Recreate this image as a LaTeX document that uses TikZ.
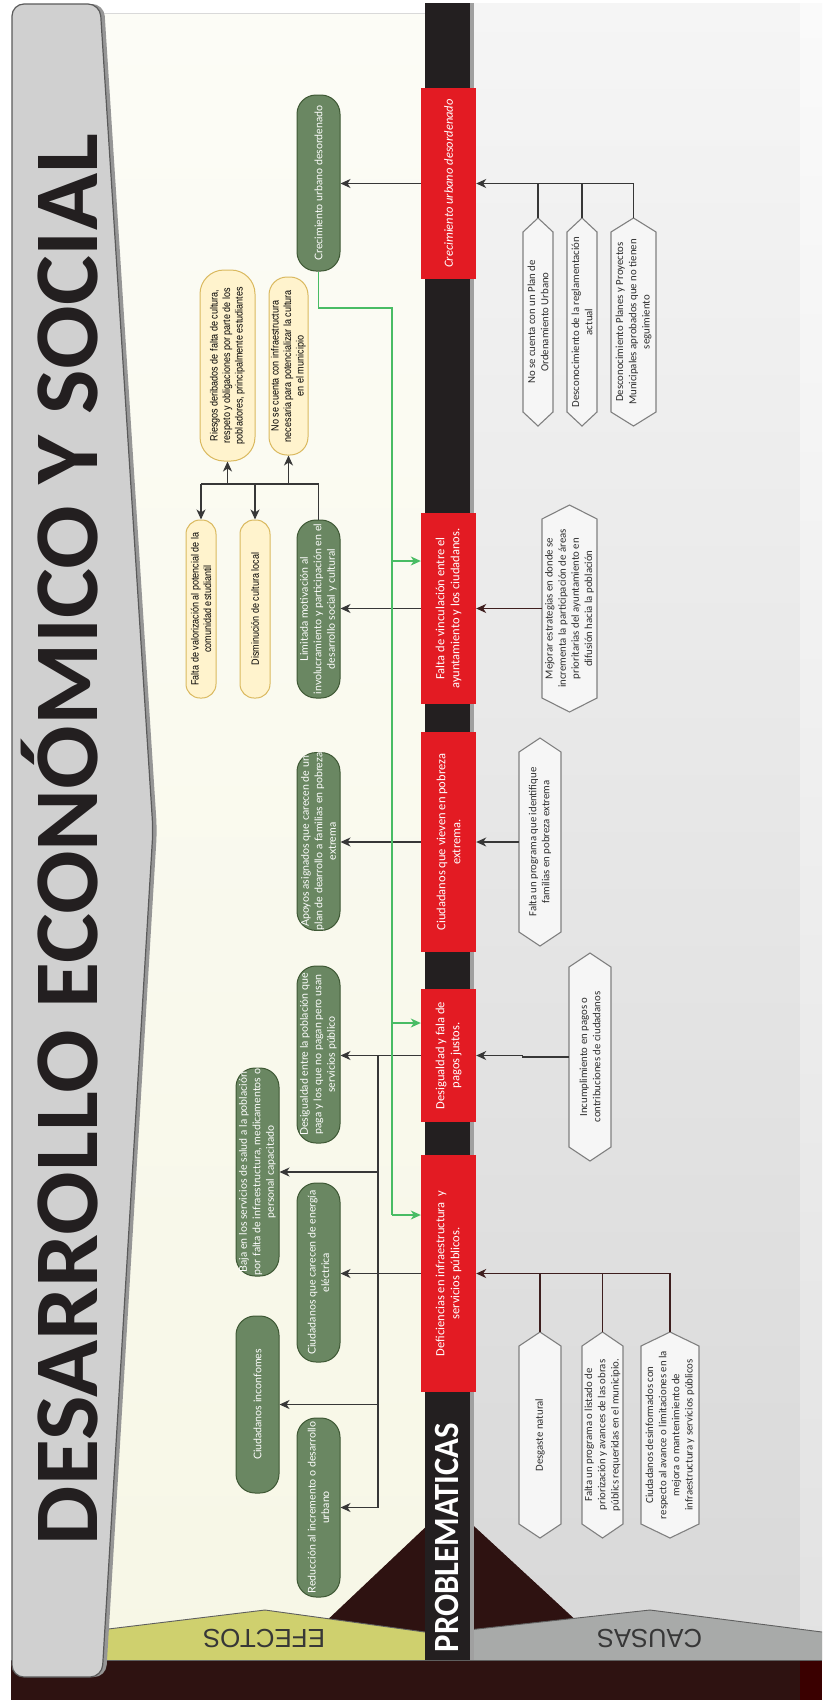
\documentclass[tikz,border=0pt]{standalone}
\usepackage{fontspec}
\usepackage{graphicx}
\usetikzlibrary{arrows.meta,calc}
\setmainfont{Liberation Sans}
\newfontfamily\carlito{Carlito}
\newfontfamily\latof{Lato}
\newfontfamily\narrowf[FakeStretch=0.86]{Liberation Sans}
\newfontfamily\arialf{Liberation Sans}
\newfontfamily\titlef{Carlito}

\definecolor{redbox}{RGB}{227,27,35}
\definecolor{barblack}{RGB}{35,31,32}
\definecolor{gfill}{RGB}{106,135,98}
\definecolor{gborder}{RGB}{62,88,52}
\definecolor{yfill}{RGB}{255,243,205}
\definecolor{yborder}{RGB}{218,185,95}
\definecolor{hexfill}{RGB}{246,246,246}
\definecolor{hexborder}{RGB}{128,128,128}
\definecolor{hextxt}{RGB}{45,45,45}
\definecolor{darkbrown}{RGB}{46,18,17}
\definecolor{darkred}{RGB}{58,0,0}
\definecolor{efband}{RGB}{207,208,110}
\definecolor{caband}{RGB}{168,170,169}
\definecolor{bandline}{RGB}{95,95,95}
\definecolor{bandtxt}{RGB}{55,55,55}
\definecolor{titlegray}{RGB}{208,208,208}
\definecolor{titleline}{RGB}{90,90,90}
\definecolor{titleshadow}{RGB}{150,150,150}
\definecolor{greenline}{RGB}{72,188,100}
\definecolor{linegray}{RGB}{55,55,55}
\definecolor{linebrown}{RGB}{62,30,30}
\definecolor{creamtop}{RGB}{252,252,246}
\definecolor{creambot}{RGB}{247,247,230}
\definecolor{graytop}{RGB}{245,245,245}
\definecolor{graybot}{RGB}{216,216,216}
\definecolor{striptop}{RGB}{250,250,250}
\definecolor{stripbot}{RGB}{226,226,226}
\definecolor{barshadow}{RGB}{160,160,160}

\newcommand\fitbox[3]{\resizebox{#1}{#2}{\raisebox{0pt}[\fontcharht\font`H][0pt]{#3}}}

\newcommand\hexn[6]{%
  \draw[hexdraw] (#2-#4,#3-#5+14) -- (#2,#3-#5) -- (#2+#4,#3-#5+14) -- (#2+#4,#3+#5-14) -- (#2,#3+#5) -- (#2-#4,#3+#5-14) -- cycle;
  \node[hextext, minimum width={2*#5}, minimum height={2*#4}] (#1) at (#2,#3) {#6};
}

\begin{document}
\begin{tikzpicture}[x=1pt,y=-1pt,
  redstyle/.style={rotate=90, fill=redbox, inner sep=0pt, minimum height=55, text=white, align=center, font=\carlito\fontsize{12.5}{15}\selectfont},
  gnode/.style={rotate=90, draw=gborder, fill=gfill, line width=1pt, rounded corners=19pt, minimum height=43, inner sep=0pt, text=white, align=center, font=\latof\fontsize{10.6}{13.5}\selectfont},
  ynode/.style={rotate=90, draw=yborder, fill=yfill, line width=1pt, inner sep=0pt, text=black, align=center, font=\narrowf\fontsize{10.5}{12.5}\selectfont},
  hextext/.style={rotate=90, inner sep=0pt, text=hextxt, align=center, font=\carlito\fontsize{10.8}{13.2}\selectfont},
  hexdraw/.style={draw=hexborder, fill=hexfill, line width=1.1pt},
  conn/.style={draw=linegray, line width=1.2pt},
  arr/.style={conn, -{Stealth[length=10pt,width=9pt,inset=3pt]}},
  bconn/.style={draw=linebrown, line width=1.2pt},
  barr/.style={bconn, -{Stealth[length=10pt,width=9pt,inset=3pt]}},
  gconn/.style={draw=greenline, line width=1.2pt},
  garr/.style={gconn, -{Stealth[length=10pt,width=9pt,inset=3pt]}}
]
\useasboundingbox (0,0) rectangle (822,1700);
\fill[white] (0,0) rectangle (822,1700);

% backgrounds
\shade[top color=creamtop, bottom color=creambot] (100,13) rectangle (425,1660);
\draw[black!15, line width=0.8pt] (100,13) -- (425,13);
\shade[top color=graytop, bottom color=graybot] (470,3) rectangle (800,1660);
\shade[top color=striptop, bottom color=stripbot] (800,3) rectangle (822,1660);
\fill[darkbrown] (11,1660) rectangle (822,1700);
\fill[darkred] (800,1660) rectangle (822,1700);
\fill[darkbrown] (285,1660) -- (450,1504) -- (619,1660) -- cycle;
\fill[efband] (100,1630) -- (265,1610) -- (432,1633) -- (432,1660) -- (100,1660) -- cycle;
\draw[bandline, line width=0.9pt] (100,1630) -- (265,1610) -- (432,1633);
\fill[caband] (468,1630) -- (650,1610) -- (822,1632) -- (822,1660) -- (468,1660) -- cycle;
\draw[bandline, line width=0.9pt] (468,1630) -- (650,1610) -- (822,1632);
\draw[bandline, line width=0.9pt] (11,1660) -- (822,1660);

% title band
\fill[titleshadow, rounded corners=12pt] (15,4) -- (104,4) -- (157,830) -- (106,1677) -- (15,1677) -- cycle;
\draw[titleline, fill=titlegray, line width=1.2pt, rounded corners=12pt] (12,4) -- (100,4) -- (153,830) -- (102,1677) -- (12,1677) -- cycle;
\node[rotate=90, inner sep=0pt, text=barblack, font=\titlef\bfseries] (title) at (67.5,839.5) {\fitbox{1411pt}{59pt}{DESARROLLO ECONÓMICO Y SOCIAL}};

% band texts
\node[rotate=180, inner sep=0pt, text=bandtxt, font=\arialf] (efectos) at (264,1638) {\fitbox{122pt}{18pt}{EFECTOS}};
\node[rotate=180, inner sep=0pt, text=bandtxt, font=\arialf] (causas) at (649.5,1638) {\fitbox{105pt}{18pt}{CAUSAS}};

% central bar
\fill[barshadow] (470,3) rectangle (474,1660);
\fill[barblack] (425,3) rectangle (470,1660);
\node[rotate=90, inner sep=0pt, text=white, font=\titlef\bfseries] (prob) at (446.5,1537.5) {\fitbox{229pt}{23pt}{PROBLEMATICAS}};

% problem boxes
\node[redstyle, minimum width=191] (r1) at (448.5,183.5) {\itshape Crecimiento urbano desordenado};
\node[redstyle, minimum width=191] (r2) at (448.5,608.5) {Falta de vinculación entre el\\ayuntamiento y los ciudadanos.};
\node[redstyle, minimum width=220] (r3) at (448.5,842) {Ciudadanos que vieven en pobreza\\extrema.};
\node[redstyle, minimum width=133] (r4) at (448.5,1055.5) {Desigualdad y fala de\\pagos justos.};
\node[redstyle, minimum width=237] (r5) at (448.5,1273.5) {Deficiencias en infraestructura~ y\\servicios públicos.};

% effects (green)
\node[gnode, minimum width=176] (g1) at (318.5,183) {Crecimiento urbano desordenado};
\node[gnode, minimum width=178] (g2) at (318.5,609) {Limitada motivación al\\involucramiento y participación en el\\desarrollo social y cultural};
\node[gnode, minimum width=177] (g3) at (318.5,841.5) {Apoyos asignados que carecen de un\\plan de dearrollo a familias en pobreza\\extrema};
\node[gnode, minimum width=177] (g4) at (318.5,1054.5) {Desigualdad entre la población que\\paga y los que no pagan pero usan\\servicios público};
\node[gnode, minimum width=208] (g5) at (257.5,1172) {Baja en los servicios de salud a la población\\por falta de infraestructura, medicamentos o\\personal capacitado};
\node[gnode, minimum width=179] (g6) at (318.5,1272.5) {Ciudadanos que carecen de energía\\eléctrica};
\node[gnode, minimum width=177] (g7) at (257.5,1404.5) {Ciudadanos inconfomes};
\node[gnode, minimum width=179] (g8) at (318.5,1507.5) {Reducción al incremento o desarrollo\\urbano};

% effects (yellow)
\node[ynode, minimum width=191, minimum height=55, rounded corners=24pt] (y1) at (227.5,365.5) {Riesgos deribados de falta de cultura,\\respeto y obligaciones por parte de los\\pobladores, principalmente estudiantes};
\node[ynode, minimum width=178, minimum height=39, rounded corners=18pt] (y2) at (288.5,366) {No se cuenta con infraestructura\\necesaria para potencializar la cultura\\en el municipio};
\node[ynode, minimum width=178, minimum height=30, rounded corners=14pt] (y3) at (201,609) {Falta de valorización al potencial de la\\comunidad estudiantil};
\node[ynode, minimum width=178, minimum height=30, rounded corners=14pt] (y4) at (255,609) {Disminución de cultura local};

% causes (hexagons)
\hexn{c1}{538}{322}{15}{104}{No se cuenta con un Plan de\\Ordenamiento Urbano}
\hexn{c2}{582}{322}{15}{104}{Desconocimiento de la reglamentación\\actual}
\hexn{c3}{633.5}{322}{22.5}{104}{Desconocimiento Planes y Proyectos\\Municipales aprobados que no tienen\\seguimiento}
\hexn{c4}{569.5}{608.5}{27.5}{103.5}{Mejorar estrategias en donde se\\incrementa la participación de áreas\\prioritarias del ayuntamiento en\\difusión hacia la población}
\hexn{c5}{540}{842}{21}{104}{Falta un programa que identifique\\familias en pobreza extrema}
\hexn{c6}{590}{1057}{21}{104}{Incumplimiento en pagos o\\contribuciones de ciudadanos}
\hexn{c7}{540}{1435}{21}{103}{Desgaste natural}
\hexn{c8}{602.5}{1435}{20.5}{103}{Falta un programa o listado de\\priorización y avances de las obras\\públics requeridas en el municipio.}
\hexn{c9}{670}{1435}{29}{103}{Ciudadanos desinformados con\\respecto al avance o limitaciones en la\\mejora o mantenimiento de\\infraestructura y servicios públicos}

% connectors: problems -> effects
\draw[arr] (r1.north) -- (r1.north -| g1.south);
\draw[arr] (r2.north) -- (r2.north -| g2.south);
\draw[arr] (r3.north) -- (r3.north -| g3.south);
\draw[arr] (r4.north) -- (r4.north -| g4.south);
\draw[arr] (r5.north) -- (r5.north -| g6.south);
\coordinate (tj) at (378,1055.5);
\draw[conn] (tj) -- (tj |- g8.south);
\draw[arr] (tj |- g5.south) -- (g5.south);
\draw[arr] (tj |- g7.south) -- (g7.south);
\draw[arr] (tj |- g8.south) -- (g8.south);

% culture cluster
\coordinate (kk) at (318.5,484);
\draw[conn] (g2.east) -- (kk) -- (kk -| y3.east);
\draw[arr] (kk -| y3.east) -- (y3.east);
\draw[arr] (kk -| y4.east) -- (y4.east);
\draw[arr] (kk -| y1.west) -- (y1.west);
\draw[arr] (kk -| y2.west) -- (y2.west);

% causes -> problems
\draw[arr] (c3.east) |- (r1.south);
\draw[conn] (c1.east) -- (c1.east |- r1.south);
\draw[conn] (c2.east) -- (c2.east |- r1.south);
\draw[barr] (c4.north) -- (c4.north -| r2.south);
\draw[arr] (c5.north) -- (c5.north -| r3.south);
\draw[arr] (c6.north) -| ($(r4.south)+(46,0)$) -- (r4.south);
\draw[barr] (c9.east) |- (r5.south);
\draw[bconn] (c7.east) -- (c7.east |- r5.south);
\draw[bconn] (c8.east) -- (c8.east |- r5.south);

% green connector
\coordinate (gv) at (392,308);
\draw[gconn] (g1.west) |- (gv) -- (gv |- 0,1215);
\draw[garr] (gv |- 0,1215) -- (r5.north |- 0,1215);
\draw[garr] (gv |- 0,561) -- (r2.north |- 0,561);
\draw[garr] (gv |- 0,1023) -- (r4.north |- 0,1023);
\end{tikzpicture}
\end{document}
